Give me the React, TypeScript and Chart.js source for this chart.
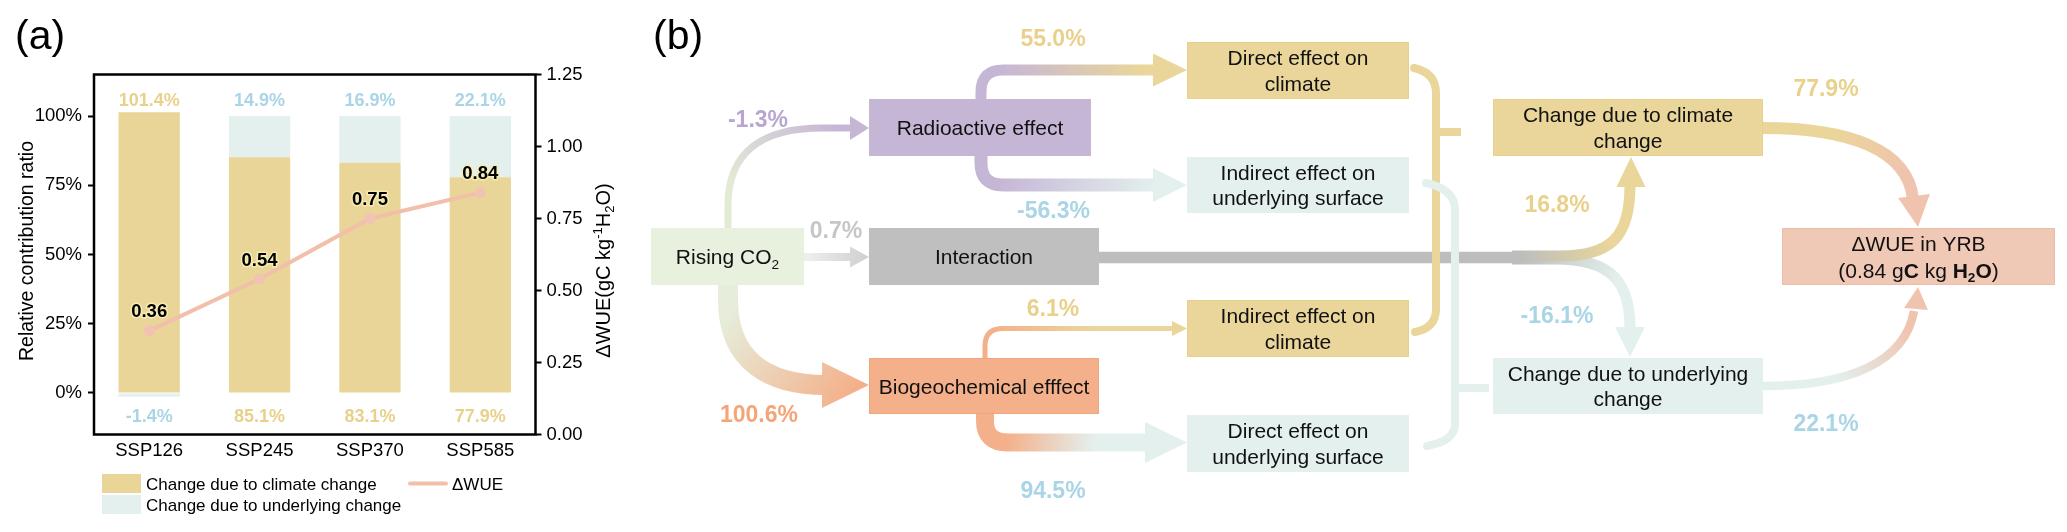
import React, { useEffect, useRef } from 'react';
import { Chart, registerables } from 'chart.js';

Chart.register(...registerables);

const FONT = '"Liberation Sans", Arial, Helvetica, sans-serif';
Chart.defaults.font.family = FONT;

// ---------------- panel (a) data ----------------
const scenarios = ['SSP126', 'SSP245', 'SSP370', 'SSP585'];
const climateShare = [101.4, 85.1, 83.1, 77.9];
const underlyingShare = [-1.4, 14.9, 16.9, 22.1];
const deltaWUE = [0.36, 0.54, 0.75, 0.84];
const ratioTicks = [0, 25, 50, 75, 100];
const wueTicks = [0, 0.25, 0.5, 0.75, 1.0, 1.25];

// ---------------- panel (b) data ----------------
const nodeIds = ['co2', 'rad', 'int', 'bio', 'dclim', 'iund', 'iclim', 'dund', 'cclim', 'cund', 'wue'];
const nodeLabels = [
  'Rising CO₂',
  'Radioactive effect',
  'Interaction',
  'Biogeochemical efffect',
  'Direct effect on|climate',
  'Indirect effect on|underlying surface',
  'Indirect effect on|climate',
  'Direct effect on|underlying surface',
  'Change due to climate|change',
  'Change due to underlying|change',
  'ΔWUE in YRB',
];
const wueTotal = 0.84;
const flowIds = ['co2-rad', 'co2-int', 'co2-bio', 'rad-dclim', 'rad-iund', 'bio-iclim', 'bio-dund', 'int-clim', 'int-und', 'clim-wue', 'und-wue'];
const flowValues = [-1.3, 0.7, 100.6, 55.0, -56.3, 6.1, 94.5, 16.8, -16.1, 77.9, 22.1];

// ---------------- styles / layout ----------------
const C = {
  yellow: '#EAD69A',
  yellowBar: '#E9D597',
  teal: '#E3F0EE',
  purple: '#C6B6D6',
  gray: '#BFBFBF',
  trunk: '#BDBDBD',
  orange: '#F4B08A',
  green: '#E8F0DE',
  peach: '#F0C8B6',
  line: '#F2BFAA',
  point: '#F2C3B3',
  tYellow: '#E9D18C',
  tBlue: '#A9D5E6',
  tPurple: '#B9A6D0',
  tGray: '#C6C6C6',
  tOrange: '#F4A577',
};

type Seg = { t: string; b?: boolean; sub?: boolean; sup?: boolean };

function drawRich(ctx: CanvasRenderingContext2D, segs: Seg[], cx: number, cy: number, size: number, color: string, boldAll = false) {
  let total = 0;
  const parts = segs.map((s) => {
    const fs = s.sub || s.sup ? size * 0.65 : size;
    const f = `${s.b || boldAll ? 'bold ' : ''}${fs}px ${FONT}`;
    ctx.font = f;
    const w = ctx.measureText(s.t).width;
    total += w;
    return { s, f, w };
  });
  let x = cx - total / 2;
  const base = cy + size * 0.358;
  ctx.textAlign = 'left';
  ctx.textBaseline = 'alphabetic';
  ctx.fillStyle = color;
  parts.forEach((p) => {
    ctx.font = p.f;
    const dy = p.s.sub ? size * 0.22 : p.s.sup ? -size * 0.4 : 0;
    ctx.fillText(p.s.t, x, base + dy);
    x += p.w;
  });
}

function toSegs(text: string): Seg[] {
  if (text.endsWith('CO₂')) return [{ t: text.replace('CO₂', 'CO') }, { t: '2', sub: true }];
  return [{ t: text }];
}

const fmtPct = (v: number) => v.toFixed(1) + '%';

// ---------------- panel (a) plugin ----------------
const panelAPlugin = {
  id: 'panelA',
  afterDraw(chart: any) {
    const { ctx, chartArea: ca, scales } = chart;
    const xs = scales.x, yL = scales.yL, yR = scales.yR;
    ctx.save();
    // frame
    ctx.strokeStyle = '#000';
    ctx.lineWidth = 2.5;
    ctx.strokeRect(ca.left, ca.top, ca.right - ca.left, ca.bottom - ca.top);

    // percent labels
    scenarios.forEach((_, i) => {
      const cx = xs.getPixelForValue(i);
      const c = climateShare[i], u = underlyingShare[i];
      const top = u >= 0 ? { v: u, col: C.tBlue } : { v: c, col: C.tYellow };
      const bot = u >= 0 ? { v: c, col: C.tYellow } : { v: u, col: C.tBlue };
      drawRich(ctx, [{ t: fmtPct(top.v) }], cx, yL.getPixelForValue(106.1), 18, top.col, true);
      drawRich(ctx, [{ t: fmtPct(bot.v) }], cx, yL.getPixelForValue(-8.1), 18, bot.col, true);
    });

    // line value labels
    deltaWUE.forEach((v, i) => {
      const px = xs.getPixelForValue(i);
      const py = yR.getPixelForValue(v) - 20;
      ctx.font = `bold 18.5px ${FONT}`;
      ctx.textAlign = 'center';
      ctx.textBaseline = 'alphabetic';
      ctx.lineWidth = 3;
      ctx.lineJoin = 'round';
      ctx.strokeStyle = 'rgba(247,236,180,0.95)';
      ctx.strokeText(v.toFixed(2), px, py + 18.5 * 0.358);
      ctx.fillStyle = '#000';
      ctx.fillText(v.toFixed(2), px, py + 18.5 * 0.358);
    });

    // axis titles
    ctx.save();
    ctx.translate(26.5, (ca.top + ca.bottom) / 2 - 3.5);
    ctx.rotate(-Math.PI / 2);
    drawRich(ctx, [{ t: 'Relative contribution ratio' }], 0, 0, 19.5, '#000');
    ctx.restore();

    ctx.save();
    ctx.translate(ca.right + 67, (ca.top + ca.bottom) / 2 + 16);
    ctx.rotate(-Math.PI / 2);
    drawRich(ctx, [{ t: 'ΔWUE(gC kg' }, { t: '-1', sup: true }, { t: 'H' }, { t: '2', sub: true }, { t: 'O)' }], 0, 0, 20, '#000');
    ctx.restore();

    // legend
    ctx.fillStyle = C.yellowBar;
    ctx.fillRect(102, 474, 39, 19);
    ctx.fillStyle = C.teal;
    ctx.fillRect(102, 495, 39, 19);
    ctx.font = `17px ${FONT}`;
    ctx.textAlign = 'left';
    ctx.textBaseline = 'alphabetic';
    ctx.fillStyle = '#000';
    ctx.fillText('Change due to climate change', 146, 483.5 + 17 * 0.358);
    ctx.fillText('Change due to underlying change', 146, 505 + 17 * 0.358);
    ctx.strokeStyle = C.line;
    ctx.lineWidth = 4;
    ctx.lineCap = 'round';
    ctx.beginPath();
    ctx.moveTo(410, 483.5);
    ctx.lineTo(446, 483.5);
    ctx.stroke();
    ctx.fillText('ΔWUE', 452, 483.5 + 17 * 0.358);

    // panel tag
    ctx.font = `41px ${FONT}`;
    ctx.fillText('(a)', 15, 49);
    ctx.restore();
  },
};

// ---------------- panel (b) geometry ----------------
type Cmd = (string | number)[];
const NODE_GEOM: Record<string, { r: number[]; fill: string; edge?: string }> = {
  co2: { r: [651, 228, 804, 285], fill: C.green },
  rad: { r: [869, 99, 1091, 156], fill: C.purple },
  int: { r: [869, 228, 1099, 285], fill: C.gray },
  bio: { r: [869, 358, 1099, 414], fill: C.orange, edge: '#F1A57C' },
  dclim: { r: [1187, 42, 1409, 99], fill: C.yellow, edge: '#E6D08B' },
  iund: { r: [1187, 157, 1409, 213], fill: C.teal },
  iclim: { r: [1187, 300, 1409, 357], fill: C.yellow, edge: '#E6D08B' },
  dund: { r: [1187, 415, 1409, 472], fill: C.teal },
  cclim: { r: [1493, 99, 1763, 156], fill: C.yellow, edge: '#E6D08B' },
  cund: { r: [1493, 358, 1763, 414], fill: C.teal },
  wue: { r: [1782, 228, 2055, 285], fill: C.peach, edge: '#EDBCA7' },
};

const FLOW_GEOM: Record<string, any> = {
  'co2-rad': {
    path: [['M', 728, 228], ['L', 728, 205], ['C', 728, 150, 765, 128, 822, 128], ['L', 852, 128]],
    w: 7, from: '#E3EBD6', to: C.purple, g: [728, 228, 869, 128], stops: [0.15, 0.85],
    head: { tip: [869, 128], base: [850, 128], half: 12 }, label: [758, 118.5], lc: C.tPurple,
  },
  'co2-int': {
    path: [['M', 804, 257], ['L', 852, 257]],
    w: 8, from: '#EFEFEF', to: '#CFCFCF', g: [804, 257, 869, 257], stops: [0, 1],
    head: { tip: [869, 257], base: [850, 257], half: 10.5 }, label: [836, 230], lc: C.tGray,
  },
  'co2-bio': {
    path: [['M', 728, 285], ['L', 728, 300], ['C', 728, 362, 770, 385, 826, 385]],
    w: 20, from: '#E6EDDA', to: C.orange, g: [728, 285, 869, 385], stops: [0.1, 0.95],
    head: { tip: [869, 385], base: [822, 385], half: 23 }, label: [759, 414], lc: C.tOrange,
  },
  'rad-dclim': {
    path: [['M', 981, 99], ['L', 981, 92], ['Q', 981, 70, 1003, 70], ['L', 1156, 70]],
    w: 11, from: C.purple, to: C.yellow, g: [981, 99, 1187, 70], stops: [0.1, 0.8],
    head: { tip: [1187, 70], base: [1153, 70], half: 16.5 }, label: [1053, 37.5], lc: C.tYellow,
  },
  'rad-iund': {
    path: [['M', 981, 156], ['L', 981, 163], ['Q', 981, 185, 1003, 185], ['L', 1156, 185]],
    w: 13, from: C.purple, to: C.teal, g: [981, 156, 1187, 185], stops: [0.1, 0.85],
    head: { tip: [1187, 185], base: [1153, 185], half: 17 }, label: [1053.5, 210], lc: C.tBlue,
  },
  'bio-iclim': {
    path: [['M', 985, 358], ['L', 985, 346], ['Q', 985, 328.5, 1003, 328.5], ['L', 1174, 328.5]],
    w: 5, from: C.orange, to: C.yellow, g: [985, 358, 1187, 328], stops: [0.05, 0.55],
    head: { tip: [1187, 328.5], base: [1172, 328.5], half: 7.5 }, label: [1053, 307.5], lc: C.tYellow,
  },
  'bio-dund': {
    path: [['M', 985, 414], ['L', 985, 421], ['Q', 985, 442.5, 1008, 442.5], ['L', 1148, 442.5]],
    w: 18, from: C.orange, to: C.teal, g: [985, 414, 1187, 443], stops: [0.12, 0.55],
    head: { tip: [1187, 442.5], base: [1145, 442.5], half: 20.5 }, label: [1053, 490], lc: C.tBlue,
  },
  'int-und': {
    path: [['M', 1512, 259], ['L', 1555, 259], ['C', 1612, 259, 1630, 282, 1630, 329]],
    w: 11, from: C.trunk, to: C.teal, g: [1520, 259, 1615, 290], stops: [0, 1],
    head: { tip: [1630, 357], base: [1630, 327], half: 15 }, label: [1557, 315], lc: C.tBlue,
  },
  'int-clim': {
    path: [['M', 1512, 256], ['L', 1560, 256], ['C', 1612, 256, 1630, 236, 1630, 185]],
    w: 11, from: C.trunk, to: C.yellow, g: [1520, 256, 1605, 225], stops: [0, 1],
    head: { tip: [1631, 157], base: [1631, 187], half: 14.5 }, label: [1557, 204], lc: C.tYellow,
  },
  'clim-wue': {
    path: [['M', 1763, 128], ['C', 1850, 128, 1908, 150, 1913, 199]],
    w: 12, from: C.yellow, to: '#F0C3AF', g: [1763, 128, 1915, 227], stops: [0.35, 0.8],
    head: { tip: [1918, 227], base: [1914, 196], half: 16 }, label: [1826, 88], lc: C.tYellow,
  },
  'und-wue': {
    path: [['M', 1763, 386], ['C', 1850, 386, 1905, 362, 1914, 311]],
    w: 8.5, from: C.teal, to: '#F0C3AF', g: [1763, 386, 1917, 287], stops: [0.35, 0.85],
    head: { tip: [1918, 287], base: [1916, 309], half: 12 }, label: [1826, 423], lc: C.tBlue,
  },
};

const BRACKETS = [
  { path: [['M', 1414, 68], ['Q', 1436, 73, 1436, 93], ['L', 1436, 309], ['Q', 1436, 328, 1415, 332]], tick: [1436, 132, 1461, 132], col: C.yellow },
  { path: [['M', 1426, 183], ['Q', 1455, 189, 1455, 210], ['L', 1455, 424], ['Q', 1455, 441, 1427, 446]], tick: [1455, 388, 1489, 388], col: C.teal },
];
const TRUNK = { from: [1099, 257.5], to: [1517, 257.5], w: 11.5 };

function trace(ctx: CanvasRenderingContext2D, cmds: Cmd[], X: (v: number) => number, Y: (v: number) => number) {
  ctx.beginPath();
  for (const c of cmds) {
    const n = c.slice(1) as number[];
    if (c[0] === 'M') ctx.moveTo(X(n[0]), Y(n[1]));
    else if (c[0] === 'L') ctx.lineTo(X(n[0]), Y(n[1]));
    else if (c[0] === 'Q') ctx.quadraticCurveTo(X(n[0]), Y(n[1]), X(n[2]), Y(n[3]));
    else if (c[0] === 'C') ctx.bezierCurveTo(X(n[0]), Y(n[1]), X(n[2]), Y(n[3]), X(n[4]), Y(n[5]));
  }
}

const panelBPlugin = {
  id: 'panelB',
  afterDraw(chart: any) {
    const { ctx, scales } = chart;
    const X = (v: number) => scales.x.getPixelForValue(v);
    const Y = (v: number) => scales.y.getPixelForValue(v);
    ctx.save();

    const drawFlow = (id: string) => {
      const f = FLOW_GEOM[id];
      const gr = ctx.createLinearGradient(X(f.g[0]), Y(f.g[1]), X(f.g[2]), Y(f.g[3]));
      gr.addColorStop(f.stops[0], f.from);
      gr.addColorStop(f.stops[1], f.to);
      trace(ctx, f.path, X, Y);
      ctx.lineWidth = f.w;
      ctx.lineCap = 'butt';
      ctx.lineJoin = 'round';
      ctx.strokeStyle = gr;
      ctx.stroke();
      const h = f.head;
      const dx = h.tip[0] - h.base[0], dy = h.tip[1] - h.base[1];
      const len = Math.hypot(dx, dy) || 1;
      const px = -dy / len, py = dx / len;
      ctx.beginPath();
      ctx.moveTo(X(h.tip[0]), Y(h.tip[1]));
      ctx.lineTo(X(h.base[0] + px * h.half), Y(h.base[1] + py * h.half));
      ctx.lineTo(X(h.base[0] - px * h.half), Y(h.base[1] - py * h.half));
      ctx.closePath();
      ctx.fillStyle = gr;
      ctx.fill();
    };

    ['co2-rad', 'co2-int', 'co2-bio', 'rad-dclim', 'rad-iund', 'bio-iclim', 'bio-dund'].forEach(drawFlow);

    drawFlow('int-und');
    ctx.beginPath();
    ctx.moveTo(X(TRUNK.from[0]), Y(TRUNK.from[1]));
    ctx.lineTo(X(TRUNK.to[0]), Y(TRUNK.to[1]));
    ctx.lineWidth = TRUNK.w;
    ctx.strokeStyle = C.trunk;
    ctx.lineCap = 'butt';
    ctx.stroke();
    drawFlow('int-clim');

    BRACKETS.forEach((b) => {
      trace(ctx, b.path, X, Y);
      ctx.lineWidth = 8;
      ctx.lineCap = 'round';
      ctx.lineJoin = 'round';
      ctx.strokeStyle = b.col;
      ctx.stroke();
      ctx.beginPath();
      ctx.moveTo(X(b.tick[0]), Y(b.tick[1]));
      ctx.lineTo(X(b.tick[2]), Y(b.tick[3]));
      ctx.lineCap = 'butt';
      ctx.stroke();
    });

    drawFlow('clim-wue');
    drawFlow('und-wue');

    nodeIds.forEach((id, i) => {
      const g = NODE_GEOM[id];
      const [x0, y0, x1, y1] = g.r;
      ctx.fillStyle = g.fill;
      ctx.fillRect(X(x0), Y(y0), X(x1) - X(x0), Y(y1) - Y(y0));
      if (g.edge) {
        ctx.strokeStyle = g.edge;
        ctx.lineWidth = 1;
        ctx.strokeRect(X(x0) + 0.5, Y(y0) + 0.5, X(x1) - X(x0) - 1, Y(y1) - Y(y0) - 1);
      }
      const cx = X((x0 + x1) / 2), cy = Y((y0 + y1) / 2);
      let lines: Seg[][] = nodeLabels[i].split('|').map(toSegs);
      if (id === 'wue') {
        lines = [
          [{ t: nodeLabels[i] }],
          [{ t: `(${wueTotal.toFixed(2)} g` }, { t: 'C', b: true }, { t: ' kg ' }, { t: 'H', b: true }, { t: '2', b: true, sub: true }, { t: 'O', b: true }, { t: ')' }],
        ];
      }
      const gap = id === 'wue' ? 27 : 25.4;
      lines.forEach((segs, k) => {
        const off = (k - (lines.length - 1) / 2) * gap;
        drawRich(ctx, segs, cx, cy + off, 21, '#111');
      });
    });

    flowIds.forEach((id, i) => {
      const f = FLOW_GEOM[id];
      drawRich(ctx, [{ t: fmtPct(flowValues[i]) }], X(f.label[0]), Y(f.label[1]), 23, f.lc, true);
    });

    ctx.font = `41px ${FONT}`;
    ctx.textAlign = 'left';
    ctx.textBaseline = 'alphabetic';
    ctx.fillStyle = '#000';
    ctx.fillText('(b)', X(653), Y(49));
    ctx.restore();
  },
};

const tickFont = { size: 18.5, family: FONT };
const LEFT_W = 94;
const RIGHT_W = 104.5;
const TOP_PAD = 74.5;
const BOTTOM_H = 97.5;

export default function App() {
  const aRef = useRef<HTMLCanvasElement>(null);
  const bRef = useRef<HTMLCanvasElement>(null);

  useEffect(() => {
    document.body.style.margin = '0';
    const chartA = new Chart(aRef.current as HTMLCanvasElement, {
      type: 'bar',
      data: {
        labels: scenarios,
        datasets: [
          {
            type: 'line',
            label: 'ΔWUE',
            data: deltaWUE,
            yAxisID: 'yR',
            borderColor: C.line,
            backgroundColor: C.point,
            borderWidth: 4,
            pointRadius: 5.5,
            pointBackgroundColor: C.point,
            pointBorderWidth: 0,
            order: 0,
          } as any,
          {
            label: 'Change due to climate change',
            data: climateShare,
            backgroundColor: C.yellowBar,
            yAxisID: 'yL',
            stack: 's',
            order: 1,
            barPercentage: 0.555,
            categoryPercentage: 1,
          },
          {
            label: 'Change due to underlying change',
            data: underlyingShare,
            backgroundColor: C.teal,
            yAxisID: 'yL',
            stack: 's',
            order: 1,
            barPercentage: 0.555,
            categoryPercentage: 1,
          },
        ],
      },
      options: {
        responsive: false,
        animation: false,
        devicePixelRatio: 1,
        layout: { padding: { left: 0, right: 0, top: TOP_PAD, bottom: 0 } },
        scales: {
          x: {
            stacked: true,
            grid: { display: false, drawTicks: false },
            border: { display: false },
            ticks: { color: '#000', font: tickFont, padding: 5 },
            afterFit: (s: any) => { s.height = BOTTOM_H; },
          },
          yL: {
            position: 'left',
            stacked: true,
            min: -15,
            max: 115,
            afterBuildTicks: (s: any) => { s.ticks = ratioTicks.map((v) => ({ value: v })); },
            ticks: { color: '#000', font: tickFont, padding: 6, callback: (v: any) => `${v}%` },
            grid: { drawOnChartArea: false, drawTicks: true, tickLength: 6, tickWidth: 2, tickColor: '#000' },
            border: { display: false },
            afterFit: (s: any) => { s.width = LEFT_W; },
          },
          yR: {
            position: 'right',
            min: 0,
            max: 1.25,
            afterBuildTicks: (s: any) => { s.ticks = wueTicks.map((v) => ({ value: v })); },
            ticks: { color: '#000', font: tickFont, padding: 5, callback: (v: any) => Number(v).toFixed(2) },
            grid: { drawOnChartArea: false, drawTicks: true, tickLength: 6, tickWidth: 2, tickColor: '#000' },
            border: { display: false },
            afterFit: (s: any) => { s.width = RIGHT_W; },
          },
        },
        plugins: { legend: { display: false }, tooltip: { enabled: false } },
      } as any,
      plugins: [panelAPlugin],
    });

    const chartB = new Chart(bRef.current as HTMLCanvasElement, {
      type: 'scatter',
      data: { datasets: [{ data: [], pointRadius: 0 }] },
      options: {
        responsive: false,
        animation: false,
        devicePixelRatio: 1,
        layout: { padding: 0 },
        scales: {
          x: { type: 'linear', min: 640, max: 2067, display: false },
          y: { type: 'linear', min: 0, max: 532, reverse: true, display: false },
        },
        plugins: { legend: { display: false }, tooltip: { enabled: false } },
      } as any,
      plugins: [panelBPlugin],
    });

    return () => {
      chartA.destroy();
      chartB.destroy();
    };
  }, []);

  return (
    <div style={{ position: 'relative', width: 2067, height: 532, background: '#fff', overflow: 'hidden' }}>
      <canvas ref={aRef} width={640} height={532} style={{ position: 'absolute', left: 0, top: 0, width: 640, height: 532 }} />
      <canvas ref={bRef} width={1427} height={532} style={{ position: 'absolute', left: 640, top: 0, width: 1427, height: 532 }} />
    </div>
  );
}
